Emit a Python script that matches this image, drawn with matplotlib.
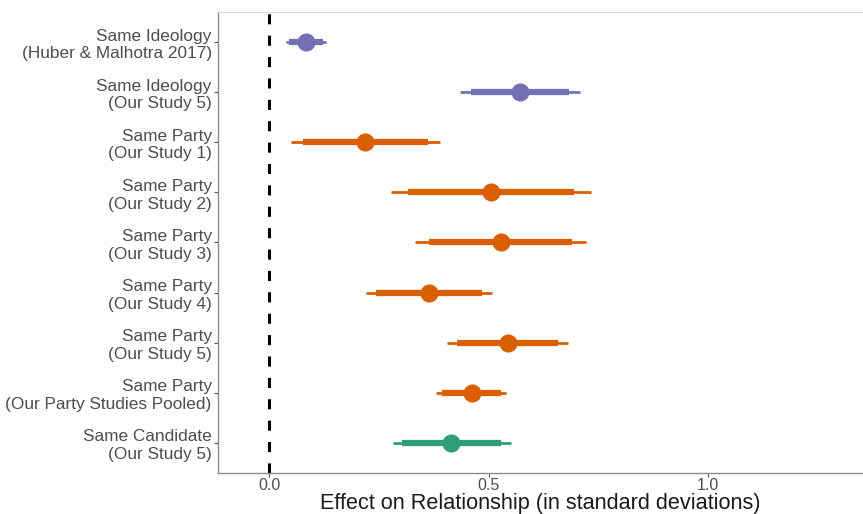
import matplotlib
matplotlib.use("Agg")
import matplotlib.pyplot as plt

plt.rcParams["font.family"] = ["Liberation Sans", "DejaVu Sans"]

labels = [
    "Same Ideology\n(Huber & Malhotra 2017)",
    "Same Ideology\n(Our Study 5)",
    "Same Party\n(Our Study 1)",
    "Same Party\n(Our Study 2)",
    "Same Party\n(Our Study 3)",
    "Same Party\n(Our Study 4)",
    "Same Party\n(Our Study 5)",
    "Same Party\n(Our Party Studies Pooled)",
    "Same Candidate\n(Our Study 5)",
]
groups = ["ideology", "ideology", "party", "party", "party", "party", "party", "party", "candidate"]
estimate = [0.084, 0.572, 0.219, 0.505, 0.528, 0.364, 0.545, 0.461, 0.415]
inner_lo = [0.045, 0.459, 0.077, 0.315, 0.365, 0.244, 0.428, 0.394, 0.303]
inner_hi = [0.122, 0.683, 0.361, 0.695, 0.690, 0.484, 0.659, 0.527, 0.528]
outer_lo = [0.038, 0.434, 0.049, 0.278, 0.332, 0.221, 0.406, 0.380, 0.281]
outer_hi = [0.130, 0.708, 0.390, 0.732, 0.721, 0.507, 0.681, 0.539, 0.550]

colors = {"ideology": "#7570B3", "party": "#D95F02", "candidate": "#2E9E77"}

fig = plt.figure(figsize=(8.63, 5.14), dpi=100)
ax = fig.add_axes([0.2526, 0.0798, 0.7474, 0.8969])

n = len(labels)
ypos = list(range(n, 0, -1))

# reference line at zero
ax.axvline(0, color="black", lw=2.2, ls=(0, (3.3, 3.7)), zorder=1)
for y, g, est, ilo, ihi, olo, ohi in zip(ypos, groups, estimate, inner_lo, inner_hi, outer_lo, outer_hi):
    c = colors[g]
    ax.plot([olo, ohi], [y, y], color=c, lw=2.0, solid_capstyle="butt", zorder=2)
    ax.plot([ilo, ihi], [y, y], color=c, lw=4.5, solid_capstyle="butt", zorder=3)
    ax.plot(est, y, "o", color=c, ms=12, zorder=4)

ax.set_xlim(-0.117, 1.353)
ax.set_ylim(0.4, n + 0.6)
ax.set_xticks([0.0, 0.5, 1.0])
ax.set_xticklabels(["0.0", "0.5", "1.0"])
ax.set_yticks(ypos)
ax.set_yticklabels(labels, linespacing=1.22)
ax.tick_params(axis="both", colors="#555555", labelcolor="#4d4d4d", length=3, width=0.8, pad=1.5)
ax.tick_params(axis="y", labelsize=12.4)
ax.tick_params(axis="x", labelsize=11.5, pad=0.5)

ax.set_xlabel("Effect on Relationship (in standard deviations)", fontsize=15.6, color="#1a1a1a")
ax.xaxis.label.set_va("baseline")
ax.xaxis.set_label_coords(0.5, -0.078)

for side in ["left", "bottom"]:
    ax.spines[side].set_color("#8c8c8c")
    ax.spines[side].set_linewidth(1.0)
ax.spines["top"].set_color("#d9d9d9")
ax.spines["top"].set_linewidth(0.8)
ax.spines["right"].set_visible(False)

fig.savefig("out.png", dpi=100)
